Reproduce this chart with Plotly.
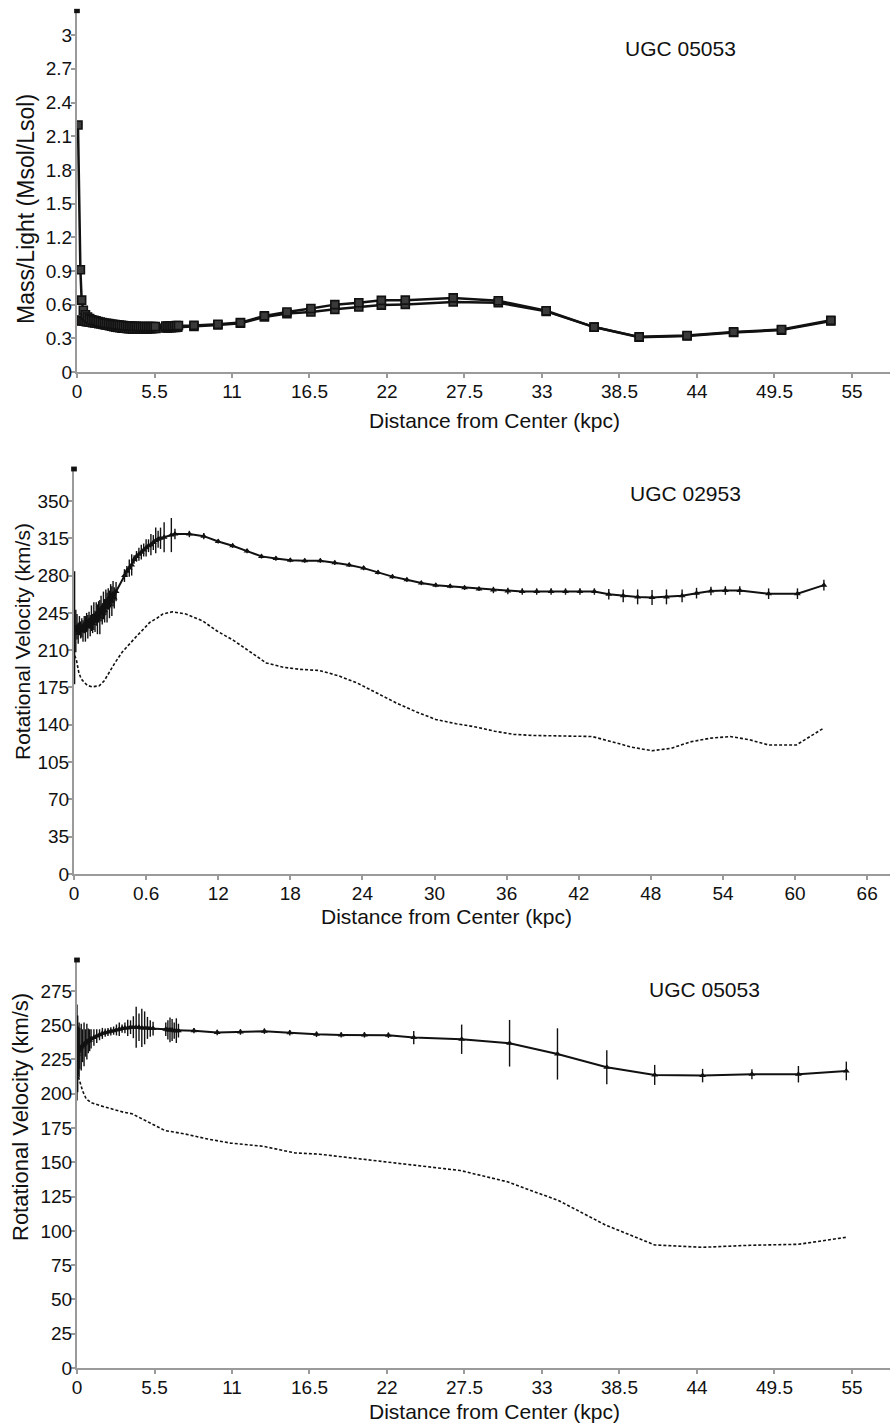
import plotly.graph_objects as go

# ---------------- Panel 1: Mass/Light, UGC 05053 ----------------
ml_a_x = [0.07, 0.24, 0.33, 0.45,
          0.6, 0.75, 0.9, 1.05, 1.2, 1.35, 1.5, 1.65, 1.8, 1.95, 2.1, 2.25, 2.4, 2.55, 2.7, 2.85,
          3.0, 3.15, 3.3, 3.45, 3.6, 3.75, 3.9, 4.05, 4.2, 4.35, 4.5, 4.65, 4.8, 4.95, 5.1, 5.25, 5.4, 5.55,
          6.3, 6.45, 6.6, 6.75, 6.9, 7.05, 7.2,
          8.3, 10.0, 11.6, 13.3, 14.9,
          16.6, 18.3, 20.0, 21.6, 23.3, 26.7, 29.9, 33.3, 36.7, 39.9, 43.3, 46.6, 50.0, 53.5]
ml_a_v = [2.20, 0.91, 0.64, 0.55,
          0.51, 0.49, 0.475, 0.465, 0.46, 0.455, 0.45, 0.445, 0.44, 0.437, 0.434, 0.431, 0.428, 0.425, 0.422, 0.42,
          0.418, 0.416, 0.414, 0.412, 0.41, 0.409, 0.408, 0.407, 0.406, 0.405, 0.405, 0.404, 0.404, 0.404, 0.404, 0.404, 0.405, 0.405,
          0.41, 0.41, 0.41, 0.412, 0.412, 0.413, 0.414,
          0.415, 0.425, 0.44, 0.50, 0.535,
          0.565, 0.60, 0.617, 0.638, 0.64, 0.66, 0.635, 0.545, 0.40, 0.313, 0.325, 0.357, 0.378, 0.46]

ml_b_x = [0.0, 0.1, 0.2, 0.35,
          0.5, 0.65, 0.8, 0.95, 1.1, 1.25, 1.4, 1.55, 1.7, 1.85, 2.0, 2.15, 2.3, 2.45, 2.6, 2.75,
          2.9, 3.05, 3.2, 3.35, 3.5, 3.65, 3.8, 3.95, 4.1, 4.25, 4.4, 4.55, 4.7, 4.85, 5.0, 5.15, 5.3, 5.45, 5.6,
          6.25, 6.4, 6.55, 6.7, 6.85, 7.0, 7.15,
          8.3, 10.0, 11.6, 13.3, 14.9,
          16.6, 18.3, 20.0, 21.6, 23.3, 26.7, 29.9, 33.3, 36.7, 39.9, 43.3, 46.6, 50.0, 53.5]
ml_b_v = [0.46, 0.46, 0.458, 0.455,
          0.452, 0.449, 0.446, 0.443, 0.44, 0.437, 0.434, 0.431, 0.428, 0.424, 0.42, 0.416, 0.412, 0.408, 0.404, 0.40,
          0.397, 0.394, 0.391, 0.389, 0.387, 0.386, 0.385, 0.384, 0.384, 0.383, 0.383, 0.383, 0.383, 0.384, 0.384, 0.385, 0.386, 0.387, 0.388,
          0.392, 0.393, 0.394, 0.395, 0.396, 0.397, 0.398,
          0.405, 0.418, 0.435, 0.49, 0.52,
          0.535, 0.558, 0.579, 0.596, 0.602, 0.623, 0.617, 0.54, 0.40, 0.31, 0.32, 0.352, 0.373, 0.455]

ml_ticks = [0, 0.3, 0.6, 0.9, 1.2, 1.5, 1.8, 2.1, 2.4, 2.7, 3.0]
ml_ticktext = ["0", "0.3", "0.6", "0.9", "1.2", "1.5", "1.8", "2.1", "2.4", "2.7", "3"]
x55_ticks = [0, 5.5, 11, 16.5, 22, 27.5, 33, 38.5, 44, 49.5, 55]
x55_ticktext = ["0", "5.5", "11", "16.5", "22", "27.5", "33", "38.5", "44", "49.5", "55"]

# ---------------- Panel 2: Rotation curve, UGC 02953 ----------------
rc2_x = [0.05, 0.15, 0.25, 0.35, 0.45, 0.55, 0.65, 0.75, 0.85, 0.95, 1.05, 1.15, 1.25, 1.35, 1.45, 1.55, 1.65,
         1.75, 1.85, 1.95, 2.05, 2.15, 2.25, 2.35, 2.45, 2.55, 2.65, 2.75, 2.85, 2.95, 3.05, 3.15, 3.25, 3.35,
         3.5, 4.2, 4.4, 4.6, 4.8, 5.0, 5.2, 5.4, 5.6, 5.8, 6.0, 6.2, 6.4, 6.6, 6.8, 7.0, 7.2, 7.5, 8.1, 8.4,
         9.6, 10.8, 12.0, 13.2, 14.4, 15.6, 16.8, 18.0,
         19.2, 20.5, 21.7, 22.9, 24.1, 25.3, 26.5, 27.7, 28.9, 30.1, 31.3, 32.5, 33.7, 34.9, 36.1, 37.3, 38.5,
         39.7, 40.9, 42.1, 43.3,
         44.5, 45.7, 46.9, 48.1, 49.3, 50.6, 51.8, 53.0, 54.2, 55.4, 57.8, 60.2, 62.4]
rc2_v = [231, 228, 232, 226, 233, 229, 231, 228, 234, 230, 236, 232, 238, 233, 240, 235, 242,
         237, 244, 239, 246, 241, 249, 244, 252, 247, 255, 250, 258, 253, 261, 256, 263, 259,
         265, 280, 284, 287, 290, 295, 298, 300, 302, 304, 306, 308, 309, 311, 313, 314, 315, 316, 318, 319,
         319, 317, 312, 308, 303, 298, 296, 294.5,
         294, 294, 292, 290, 287, 283, 279, 276, 273, 271, 270, 268.5, 267.5, 266.5, 265.5, 265, 265,
         265, 265, 265, 265,
         262.5, 261, 260, 259.5, 260, 261, 263.5, 265.5, 266, 266, 263, 263, 271]
rc2_err = [53, 20, 12, 10, 9, 8, 9, 10, 8, 12, 9, 11, 8, 10, 12, 9, 13,
           10, 11, 14, 10, 16, 12, 10, 13, 11, 12, 14, 10, 13, 11, 14, 12, 10,
           9, 6, 5, 8, 10, 4, 5, 6, 7, 6, 8, 6, 10, 7, 12, 8, 10, 14, 16, 5,
           3, 3, 2, 2, 2, 2, 2, 2,
           2, 2, 2, 2, 2, 2, 2, 2, 2, 2, 2, 2, 2, 3, 3, 3, 3,
           3, 3, 3, 3,
           5, 6, 7, 7, 7, 6, 5, 4, 4, 4, 5, 5, 5]
rc2_dash_x = [0.05, 0.2, 0.4, 0.6, 0.84, 1.1, 1.5, 2.1, 2.5, 2.9, 3.4, 4.0, 4.6, 5.2, 5.8, 6.3, 6.9, 7.4,
              8.2, 9.3, 10.7, 11.9, 13.3, 14.7, 16.0, 17.4, 18.8, 20.4, 22.0, 23.6, 25.2, 26.9, 28.5, 30.1,
              31.8, 33.4, 35.0, 36.6, 38.2, 39.9, 41.5, 43.1, 44.8, 46.4, 48.1, 49.7, 51.3, 53.0, 54.6, 56.2,
              57.8, 60.1, 62.4]
rc2_dash_v = [205, 201, 189, 183, 180, 177, 175.6, 176.6, 181, 189, 198, 208, 216, 223, 230, 236, 240, 244,
              246, 244, 237.5, 228, 219, 208, 198, 194, 192, 191, 186, 179, 170, 160, 152, 145,
              141, 138, 134, 131, 130, 129.8, 129.5, 129, 124, 119, 115.7, 118, 124, 127.5, 129, 126,
              121, 121, 137]
rc2_ticks = [0, 35, 70, 105, 140, 175, 210, 245, 280, 315, 350]
x66_ticks = [0, 6, 12, 18, 24, 30, 36, 42, 48, 54, 60, 66]
x66_ticktext = ["0", "0.6", "12", "18", "24", "30", "36", "42", "48", "54", "60", "66"]

# ---------------- Panel 3: Rotation curve, UGC 05053 ----------------
rc3_x = [0.0, 0.05, 0.1, 0.15, 0.2, 0.3, 0.4, 0.5, 0.6, 0.7, 0.8, 0.9, 1.0, 1.2, 1.4, 1.6, 1.8, 2.0, 2.2, 2.4,
         2.6, 2.8, 3.0, 3.2, 3.4, 3.6, 3.8, 4.0, 4.2, 4.4, 4.6, 4.8, 5.0, 5.2, 5.4,
         6.3, 6.45, 6.6, 6.75, 6.9, 7.05, 7.2,
         8.3, 9.95, 11.6, 13.3, 15.1, 17.0, 18.75, 20.4, 22.1, 23.9, 27.3, 30.7, 34.1, 37.6, 41.0, 44.4,
         47.9, 51.2, 54.6]
rc3_v = [230, 229, 231, 232, 233, 234, 235, 236, 237, 238, 238.5, 239, 240, 241, 242, 243, 244, 244.5, 245, 245.5,
         246, 246.5, 247, 247.5, 248, 248, 248.5, 248.5, 248.5, 248.5, 248, 248, 248, 247.5, 247.5,
         247, 246.5, 246.5, 246.5, 246, 246, 246,
         246, 244.6, 245, 245.6, 244.4, 243.3, 242.9, 242.9, 242.6, 240.9, 239.7, 236.8, 229, 219.3, 213.7, 213.2,
         214.2, 214.2, 216.6]
rc3_err = [35, 28, 18, 20, 15, 17, 12, 16, 10, 13, 9, 8, 7, 6, 5, 4, 4, 3, 3, 3,
           3, 4, 5, 3, 4, 6, 5, 8, 15, 10, 14, 12, 8, 6, 5,
           5, 7, 9, 8, 6, 9, 5,
           2, 2, 2, 2, 2, 2, 2, 2, 2, 4.9, 10.7, 17, 18.7, 12.4, 7.3, 4.9,
           3.6, 6, 6.8]
rc3_dash_x = [0.0, 0.1, 0.19, 0.4, 0.65, 1.0, 1.58, 2.2, 2.74, 3.3, 3.9, 4.5, 5.07, 5.6, 6.23, 7.63, 9.26,
              10.9, 13.2, 14.45, 15.5, 17.2, 20.0, 22.8, 25.6, 27.2, 30.5, 34.2, 37.5, 41.0, 44.4, 47.8,
              51.2, 54.6]
rc3_dash_v = [215.8, 212, 208.5, 202, 196.3, 193.5, 191.5, 189.5, 187.8, 186.5, 185.4, 182.5, 179.3, 176.5,
              173.2, 170.7, 167, 164, 161.7, 159, 156.8, 155.9, 152.5, 149.3, 145.6, 144, 135.9, 122, 104.3,
              89.7, 88, 89.5, 90.2, 95.3]
rc3_ticks = [0, 25, 50, 75, 100, 125, 150, 175, 200, 225, 250, 275]

FONT = "Liberation Sans, Arial, sans-serif"
W, H = 890, 1426

fig = go.Figure()

# Panel 1 traces
for xs, vs in ((ml_b_x, ml_b_v), (ml_a_x, ml_a_v)):
    fig.add_trace(go.Scatter(
        x=xs, y=vs, mode="lines+markers", xaxis="x", yaxis="y",
        line=dict(color="#111111", width=2.5),
        marker=dict(symbol="square", size=8, color="#3a3a3a", line=dict(color="#111111", width=1.6)),
        showlegend=False))

# Panel 2 traces
fig.add_trace(go.Scatter(
    x=rc2_dash_x, y=rc2_dash_v, mode="lines", xaxis="x2", yaxis="y2",
    line=dict(color="#111111", width=1.6, dash="3px,2px"), showlegend=False))
fig.add_trace(go.Scatter(
    x=rc2_x, y=rc2_v, mode="lines+markers", xaxis="x2", yaxis="y2",
    line=dict(color="#111111", width=2),
    marker=dict(symbol="triangle-up", size=6, color="#111111"),
    error_y=dict(type="data", array=rc2_err, color="#111111", thickness=1.4, width=0),
    showlegend=False))

# Panel 3 traces
fig.add_trace(go.Scatter(
    x=rc3_dash_x, y=rc3_dash_v, mode="lines", xaxis="x3", yaxis="y3",
    line=dict(color="#111111", width=1.6, dash="3px,2px"), showlegend=False))
fig.add_trace(go.Scatter(
    x=rc3_x, y=rc3_v, mode="lines+markers", xaxis="x3", yaxis="y3",
    line=dict(color="#111111", width=2),
    marker=dict(symbol="triangle-up", size=6, color="#111111"),
    error_y=dict(type="data", array=rc3_err, color="#111111", thickness=1.4, width=0),
    showlegend=False))

axis_common = dict(showline=True, linecolor="#9a9a9a", linewidth=2, ticks="outside", ticklen=4,
                   tickwidth=1.5, tickcolor="#9a9a9a", showgrid=False, zeroline=False,
                   tickfont=dict(family=FONT, size=19, color="#111111"), automargin=False,
                   tickmode="array", fixedrange=True)
xaxis_common = dict(axis_common, ticklabelstandoff=-3)
yaxis_common = dict(axis_common, ticklabelstandoff=-5)

def py(px):
    return (H - px) / H

def pxx(px):
    return px / W

fig.update_layout(
    width=W, height=H, margin=dict(l=0, r=0, t=0, b=0),
    paper_bgcolor="white", plot_bgcolor="white", showlegend=False,
    font=dict(family=FONT, color="#111111"),
    xaxis=dict(xaxis_common, domain=[pxx(77), 1], range=[0, 57.7], anchor="y",
               tickvals=x55_ticks, ticktext=x55_ticktext),
    yaxis=dict(yaxis_common, domain=[py(372), py(11)], range=[0, 3.215], anchor="x",
               tickvals=ml_ticks, ticktext=ml_ticktext),
    xaxis2=dict(xaxis_common, domain=[pxx(74), 1], range=[0, 67.9], anchor="y2",
                tickvals=x66_ticks, ticktext=x66_ticktext),
    yaxis2=dict(yaxis_common, domain=[py(874), py(469)], range=[0, 380], anchor="x2",
                tickvals=rc2_ticks, ticktext=[str(t) for t in rc2_ticks]),
    xaxis3=dict(xaxis_common, domain=[pxx(77), 1], range=[0, 57.7], anchor="y3",
                tickvals=x55_ticks, ticktext=x55_ticktext),
    yaxis3=dict(yaxis_common, domain=[py(1368), py(960)], range=[0, 297.5], anchor="x3",
                tickvals=rc3_ticks, ticktext=[str(t) for t in rc3_ticks]),
)

ann = []
def text(s, x, y, size, angle=0):
    ann.append(dict(text=s, x=pxx(x), y=py(y), xref="paper", yref="paper", showarrow=False,
                    xanchor="center", yanchor="middle", textangle=angle,
                    font=dict(family=FONT, size=size, color="#111111")))

text("UGC 05053", 680, 48, 21)
text("UGC 02953", 685, 494, 21)
text("UGC 05053", 704, 989, 21)
text("Distance from Center (kpc)", 494, 420, 21)
text("Distance from Center (kpc)", 446, 916, 21)
text("Distance from Center (kpc)", 494, 1411, 21)
text("Mass/Light (Msol/Lsol)", 26, 209, 23, -90)
text("Rotational Velocity (km/s)", 22, 642, 21, -90)
text("Rotational Velocity (km/s)", 20, 1117, 22, -90)
fig.update_layout(annotations=ann)

# small end caps at the top of each y axis
shapes = []
for xr, yr in (("x domain", "y domain"), ("x2 domain", "y2 domain"), ("x3 domain", "y3 domain")):
    shapes.append(dict(type="rect", xref=xr, yref=yr, x0=-0.0035, x1=0.0035, y0=0.994, y1=1.006,
                       fillcolor="#111111", line=dict(width=0)))
fig.update_layout(shapes=shapes)

fig.write_html("out.html")
